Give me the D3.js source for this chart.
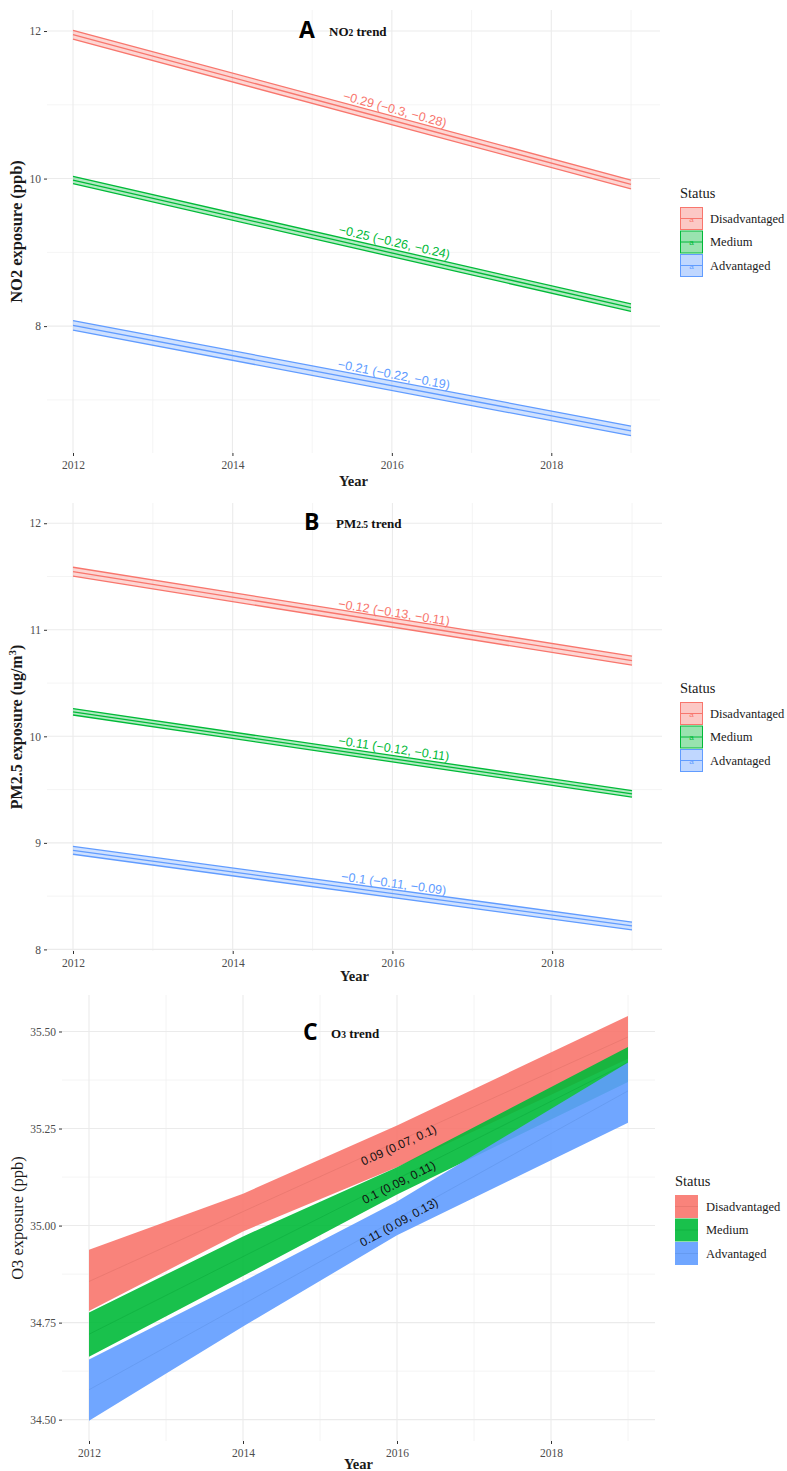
<!DOCTYPE html>
<html>
<head>
<meta charset="utf-8">
<script src="https://cdn.jsdelivr.net/npm/d3@7"></script>
<style>
  body { margin: 0; background: #fff; }
</style>
</head>
<body>
<script>
// ---- data ----
var statuses = ['Disadvantaged', 'Medium', 'Advantaged'];
var colors = ['#F8766D', '#00BA38', '#619CFF'];
var yearTicks = [2012, 2014, 2016, 2018];
var yearMinor = [2013, 2015, 2017, 2019];

// A: NO2 trend (values at 2012 and 2019)
var no2Years = [2012, 2019];
var no2Fit = [[11.95, 9.92], [9.98, 8.25], [8.01, 6.58]];
var no2Lower = [[11.89, 9.86], [9.93, 8.20], [7.945, 6.515]];
var no2Upper = [[12.01, 9.98], [10.03, 8.30], [8.075, 6.645]];
var no2Labels = ['\u22120.29 (\u22120.3, \u22120.28)', '\u22120.25 (\u22120.26, \u22120.24)', '\u22120.21 (\u22120.22, \u22120.19)'];
var no2YTicks = [8, 10, 12];
var no2YMinor = [7, 9, 11];

// B: PM2.5 trend
var pmYears = [2012, 2019];
var pmFit = [[11.545, 10.71], [10.23, 9.46], [8.93, 8.22]];
var pmLower = [[11.503, 10.668], [10.20, 9.43], [8.893, 8.183]];
var pmUpper = [[11.587, 10.752], [10.26, 9.49], [8.967, 8.257]];
var pmLabels = ['\u22120.12 (\u22120.13, \u22120.11)', '\u22120.11 (\u22120.12, \u22120.11)', '\u22120.1 (\u22120.11, \u22120.09)'];
var pmYTicks = [8, 9, 10, 11, 12];
var pmYMinor = [8.5, 9.5, 10.5, 11.5];

// C: O3 trend
var o3Years = [2012, 2014, 2016, 2019];
var o3Fit = [[34.856, 35.036, 35.216, 35.486], [34.72, 34.92, 35.12, 35.42], [34.577, 34.797, 35.017, 35.347]];
var o3Lower = [[34.78, 34.985, 35.15, 35.43], [34.662, 34.87, 35.08, 35.37], [34.497, 34.74, 34.975, 35.265]];
var o3Upper = [[34.938, 35.082, 35.258, 35.54], [34.776, 34.972, 35.15, 35.46], [34.655, 34.856, 35.062, 35.42]];
var o3Labels = ['0.09 (0.07, 0.1)', '0.1 (0.09, 0.11)', '0.11 (0.09, 0.13)'];
var o3YTicks = [34.5, 34.75, 35, 35.25, 35.5];
var o3YMinor = [34.625, 34.875, 35.125, 35.375];

var serif = "'Liberation Serif', 'DejaVu Serif', serif";
var sans = "'Liberation Sans', Arial, sans-serif";

var svg = d3.select('body').append('svg')
    .attr('width', 787)
    .attr('height', 1471)
    .style('display', 'block');

svg.append('rect').attr('width', 787).attr('height', 1471).attr('fill', '#fff');

function drawPanel(p) {
    var g = svg.append('g');

    var x = d3.scaleLinear().domain([2012, 2019]).range([p.x2012, p.x2019]);
    var y = d3.scaleLinear().domain(p.yDomain).range([p.bottom, p.top]);

    // grid
    var grid = g.append('g');
    grid.selectAll('.hminor').data(p.yMinor).enter().append('line')
        .attr('x1', p.left).attr('x2', p.right)
        .attr('y1', function(d) { return y(d); }).attr('y2', function(d) { return y(d); })
        .attr('stroke', '#f1f1f1').attr('stroke-width', 0.8);
    grid.selectAll('.vminor').data(yearMinor).enter().append('line')
        .attr('y1', p.top).attr('y2', p.bottom)
        .attr('x1', function(d) { return x(d); }).attr('x2', function(d) { return x(d); })
        .attr('stroke', '#f1f1f1').attr('stroke-width', 0.8);
    grid.selectAll('.hmajor').data(p.yTicks).enter().append('line')
        .attr('x1', p.left).attr('x2', p.right)
        .attr('y1', function(d) { return y(d); }).attr('y2', function(d) { return y(d); })
        .attr('stroke', '#ebebeb').attr('stroke-width', 1.1);
    grid.selectAll('.vmajor').data(yearTicks).enter().append('line')
        .attr('y1', p.top).attr('y2', p.bottom)
        .attr('x1', function(d) { return x(d); }).attr('x2', function(d) { return x(d); })
        .attr('stroke', '#ebebeb').attr('stroke-width', 1.1);

    // bands
    statuses.forEach(function(s, i) {
        var rows = p.years.map(function(yr, j) {
            return { yr: yr, fit: p.fit[i][j], lo: p.lower[i][j], hi: p.upper[i][j] };
        });
        var area = d3.area()
            .x(function(d) { return x(d.yr); })
            .y0(function(d) { return y(d.lo); })
            .y1(function(d) { return y(d.hi); });
        var line = function(key) {
            return d3.line()
                .x(function(d) { return x(d.yr); })
                .y(function(d) { return y(d[key]); });
        };
        if (p.style === 'lines') {
            g.append('path').datum(rows).attr('d', area)
                .attr('fill', colors[i]).attr('fill-opacity', 0.3);
            ['lo', 'hi', 'fit'].forEach(function(k) {
                g.append('path').datum(rows).attr('d', line(k))
                    .attr('fill', 'none').attr('stroke', colors[i]).attr('stroke-width', 1.3);
            });
        } else {
            g.append('path').datum(rows).attr('d', area)
                .attr('fill', colors[i]).attr('fill-opacity', 0.9);
            g.append('path').datum(rows).attr('d', line('fit'))
                .attr('fill', 'none').attr('stroke', d3.color(colors[i]).darker(0.5))
                .attr('stroke-opacity', 0.35).attr('stroke-width', 0.9);
        }
    });

    // slope labels, placed at 2016 along the fitted line
    statuses.forEach(function(s, i) {
        var fitAt = d3.scaleLinear().domain(p.years).range(p.fit[i]);
        var first = p.fit[i][0], last = p.fit[i][p.fit[i].length - 1];
        var ang = Math.atan2(y(last) - y(first), x(2019) - x(2012)) * 180 / Math.PI;
        g.append('text')
            .attr('transform', 'translate(' + x(2016) + ',' + y(fitAt(2016)) + ') rotate(' + ang + ')')
            .attr('y', p.labelDy)
            .attr('text-anchor', 'middle')
            .attr('font-family', sans)
            .attr('font-size', p.labelSize)
            .attr('fill', p.labelColor ? p.labelColor : colors[i])
            .text(p.labels[i]);
    });

    // axes
    var ya = g.append('g').attr('transform', 'translate(' + p.left + ',0)')
        .call(d3.axisLeft(y).tickValues(p.yTicks).tickSize(3).tickPadding(3).tickFormat(p.yFormat));
    var xa = g.append('g').attr('transform', 'translate(0,' + p.bottom + ')')
        .call(d3.axisBottom(x).tickValues(yearTicks).tickSize(3).tickPadding(5).tickFormat(d3.format('d')));
    [ya, xa].forEach(function(a) {
        a.select('.domain').remove();
        a.selectAll('.tick line').attr('stroke', '#333');
        a.selectAll('text').attr('font-family', serif).attr('font-size', 11.5).attr('fill', '#4d4d4d');
    });

    // axis titles
    g.append('text')
        .attr('x', (p.left + p.right) / 2).attr('y', p.xTitleY)
        .attr('text-anchor', 'middle')
        .attr('font-family', serif).attr('font-size', 14.5).attr('font-weight', 'bold')
        .attr('fill', '#1a1a1a')
        .text('Year');

    var yt = g.append('text')
        .attr('transform', 'translate(' + p.yTitleX + ',' + (p.top + p.bottom) / 2 + ') rotate(-90)')
        .attr('text-anchor', 'middle')
        .attr('font-family', serif).attr('font-size', p.yTitleSize)
        .attr('font-weight', p.yTitleWeight)
        .attr('fill', '#1a1a1a');
    p.yTitle.forEach(function(part) {
        var t = yt.append('tspan').text(part.t);
        if (part.sup) t.attr('font-size', p.yTitleSize * 0.65).attr('dy', -6);
        if (part.after) t.attr('dy', 6);
    });

    // panel title
    g.append('text')
        .attr('x', p.letterX).attr('y', p.letterY)
        .attr('font-family', "'Open Sans', 'DejaVu Sans', sans-serif")
        .attr('font-size', 23).attr('font-weight', 'bold')
        .attr('fill', '#000')
        .text(p.letter);
    var tt = g.append('text')
        .attr('x', p.titleX).attr('y', p.titleY)
        .attr('font-family', serif).attr('font-size', 13).attr('font-weight', 'bold')
        .attr('fill', '#111');
    p.title.forEach(function(part) {
        var t = tt.append('tspan').text(part.t);
        if (part.sub) t.attr('font-size', 9.5);
    });

    // legend
    var lg = g.append('g').attr('transform', 'translate(' + p.legendX + ',' + p.legendY + ')');
    lg.append('text').attr('x', 0).attr('y', 0)
        .attr('font-family', serif).attr('font-size', 14.5).attr('fill', '#1a1a1a')
        .text('Status');
    statuses.forEach(function(s, i) {
        var ky = 9 + i * 23.5;
        var k = lg.append('g').attr('transform', 'translate(0,' + ky + ')');
        if (p.style === 'lines') {
            k.append('rect').attr('x', 0.5).attr('y', 0.5).attr('width', 22).attr('height', 22)
                .attr('fill', colors[i]).attr('fill-opacity', 0.4)
                .attr('stroke', colors[i]).attr('stroke-width', 1);
            k.append('line').attr('x1', 1).attr('x2', 22).attr('y1', 11.5).attr('y2', 11.5)
                .attr('stroke', colors[i]).attr('stroke-width', 1);
            k.append('text').attr('x', 11.5).attr('y', 14.5).attr('text-anchor', 'middle')
                .attr('font-family', sans).attr('font-size', 8).attr('fill', colors[i])
                .text('a');
        } else {
            k.append('rect').attr('x', 0).attr('y', 0).attr('width', 23).attr('height', 23)
                .attr('fill', colors[i]).attr('fill-opacity', 0.9);
            k.append('line').attr('x1', 0).attr('x2', 23).attr('y1', 11.5).attr('y2', 11.5)
                .attr('stroke', d3.color(colors[i]).darker(0.5)).attr('stroke-opacity', 0.35);
        }
        lg.append('text').attr('x', p.legendTextDx).attr('y', ky + 15.5)
            .attr('font-family', serif).attr('font-size', 12.5).attr('fill', '#1a1a1a')
            .text(s);
    });
}

drawPanel({
    style: 'lines',
    years: no2Years, fit: no2Fit, lower: no2Lower, upper: no2Upper, labels: no2Labels,
    yTicks: no2YTicks, yMinor: no2YMinor, yFormat: d3.format('d'),
    yDomain: [6.28, 12.285],
    x2012: 73, x2019: 631, left: 47, right: 660, top: 10, bottom: 453,
    labelDy: -7, labelSize: 12.5,
    xTitleY: 486,
    yTitleX: 22, yTitleSize: 16.5, yTitleWeight: 'bold',
    yTitle: [{ t: 'NO2 exposure  (ppb)' }],
    letter: 'A', letterX: 299, letterY: 38,
    title: [{ t: 'NO' }, { t: '2', sub: true }, { t: ' trend' }], titleX: 329, titleY: 36,
    legendX: 680, legendY: 198, legendTextDx: 30
});

drawPanel({
    style: 'lines',
    years: pmYears, fit: pmFit, lower: pmLower, upper: pmUpper, labels: pmLabels,
    yTicks: pmYTicks, yMinor: pmYMinor, yFormat: d3.format('d'),
    yDomain: [7.985, 12.19],
    x2012: 73, x2019: 632, left: 47, right: 662, top: 503, bottom: 951,
    labelDy: -6, labelSize: 12.5,
    xTitleY: 981,
    yTitleX: 22, yTitleSize: 16, yTitleWeight: 'bold',
    yTitle: [{ t: 'PM2.5 exposure  (ug/m' }, { t: '3', sup: true }, { t: ')', after: true }],
    letter: 'B', letterX: 304, letterY: 530,
    title: [{ t: 'PM' }, { t: '2.5', sub: true }, { t: ' trend' }], titleX: 336, titleY: 528,
    legendX: 680, legendY: 693, legendTextDx: 30
});

drawPanel({
    style: 'solid',
    years: o3Years, fit: o3Fit, lower: o3Lower, upper: o3Upper, labels: o3Labels,
    yTicks: o3YTicks, yMinor: o3YMinor, yFormat: d3.format('.2f'),
    yDomain: [34.445, 35.594],
    x2012: 89, x2019: 628, left: 62, right: 655, top: 995, bottom: 1441,
    labelDy: 8, labelSize: 12, labelColor: '#111',
    xTitleY: 1469,
    yTitleX: 23, yTitleSize: 16.5, yTitleWeight: 'normal',
    yTitle: [{ t: 'O3 exposure  (ppb)' }],
    letter: 'C', letterX: 303, letterY: 1040,
    title: [{ t: 'O' }, { t: '3', sub: true }, { t: ' trend' }], titleX: 331, titleY: 1038,
    legendX: 675, legendY: 1186, legendTextDx: 31
});
</script>
</body>
</html>
